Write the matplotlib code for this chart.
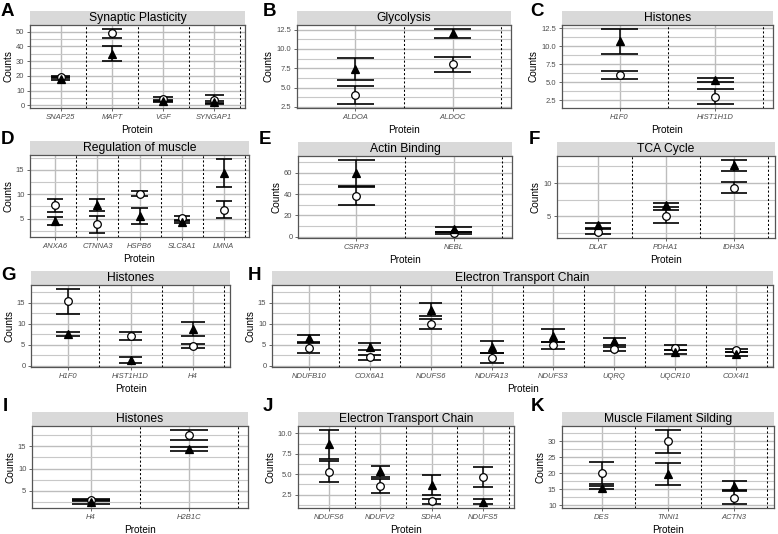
import numpy as np
import matplotlib
matplotlib.use("Agg")
import matplotlib.pyplot as plt
from matplotlib.patches import Rectangle
from matplotlib.ticker import MultipleLocator, FormatStrFormatter

plt.rcParams['font.family'] = ['Liberation Sans', 'DejaVu Sans']

# ---- data (mean and error half-width) ----
# A  Synaptic Plasticity
a_proteins = ["SNAP25", "MAPT", "VGF", "SYNGAP1"]
a_circle = [19.2, 48.9, 4.2, 3.8]
a_circle_se = [0.5, 3.0, 1.4, 3.0]
a_tri = [18.0, 34.9, 3.0, 2.0]
a_tri_se = [1.0, 5.1, 0.9, 0.7]

# B  Glycolysis
b_proteins = ["ALDOA", "ALDOC"]
b_circle = [4.0, 8.0]
b_circle_se = [1.15, 1.0]
b_tri = [7.4, 12.0]
b_tri_se = [1.4, 0.6]

# C  Histones
c_proteins = ["H1F0", "HIST1H1D"]
c_circle = [6.05, 3.0]
c_circle_se = [0.6, 1.03]
c_tri = [10.7, 5.35]
c_tri_se = [1.75, 0.33]

# D  Regulation of muscle
d_proteins = ["ANXA6", "CTNNA3", "HSPB6", "SLC8A1", "LMNA"]
d_circle = [7.7, 3.8, 10.1, 5.1, 6.8]
d_circle_se = [1.35, 1.8, 0.55, 0.5, 1.7]
d_tri = [4.45, 7.8, 5.5, 4.4, 14.4]
d_tri_se = [0.85, 1.2, 1.65, 0.3, 2.85]

# E  Actin Binding
e_proteins = ["CSRP3", "NEBL"]
e_circle = [38.2, 3.2]
e_circle_se = [8.3, 1.0]
e_tri = [60.0, 6.8]
e_tri_se = [12.5, 2.5]

# F  TCA Cycle
f_proteins = ["DLAT", "PDHA1", "IDH3A"]
f_circle = [2.7, 5.0, 9.3]
f_circle_se = [0.4, 1.0, 0.85]
f_tri = [3.65, 6.7, 12.65]
f_tri_se = [0.35, 0.35, 0.85]

# G  Histones
g_proteins = ["H1F0", "HIST1H1D", "H4"]
g_circle = [15.3, 7.0, 4.6]
g_circle_se = [3.0, 1.0, 0.5]
g_tri = [7.45, 1.3, 8.65]
g_tri_se = [0.45, 0.75, 1.65]

# H  Electron Transport Chain
h_proteins = ["NDUFB10", "COX6A1", "NDUFS6", "NDUFA13", "NDUFS3", "UQRQ", "UQCR10", "COX4I1"]
h_circle = [4.1, 2.0, 9.8, 1.8, 4.8, 4.0, 4.3, 3.6]
h_circle_se = [1.2, 0.6, 1.2, 1.25, 0.75, 0.5, 0.5, 0.4]
h_tri = [6.45, 4.45, 13.35, 4.5, 7.1, 5.75, 3.3, 2.8]
h_tri_se = [0.95, 0.85, 1.45, 1.4, 1.5, 0.85, 0.45, 0.4]

# I  Histones
i_proteins = ["H4", "H2B1C"]
i_circle = [2.95, 17.5]
i_circle_se = [0.25, 1.2]
i_tri = [2.5, 14.4]
i_tri_se = [0.5, 0.45]

# J  Electron Transport Chain
j_proteins = ["NDUFS6", "NDUFV2", "SDHA", "NDUFS5"]
j_circle = [5.3, 3.6, 1.7, 4.65]
j_circle_se = [1.27, 0.85, 0.3, 1.2]
j_tri = [8.65, 5.35, 3.7, 1.65]
j_tri_se = [1.8, 0.68, 1.2, 0.33]

# K  Muscle Filament Silding
k_proteins = ["DES", "TNNI1", "ACTN3"]
k_circle = [20.0, 30.0, 12.35]
k_circle_se = [3.5, 3.6, 2.05]
k_tri = [15.5, 19.75, 16.1]
k_tri_se = [0.5, 3.5, 1.4]

W, H = 778, 534
fig = plt.figure(figsize=(W / 100, H / 100), dpi=100)

GRAY = "#4d4d4d"
STRIP_PX = 14


def data_limits(*groups):
    lo = min(min(np.array(m) - np.array(s)) for m, s in groups)
    hi = max(max(np.array(m) + np.array(s)) for m, s in groups)
    pad = (hi - lo) * 0.05
    return lo - pad, hi + pad


def panel(box, letter, letter_xy, title, proteins, circ, circ_se, tri, tri_se,
          step, fmt, ylim=None):
    l, r, t, b = box
    ax = fig.add_axes([l / W, 1 - b / H, (r - l) / W, (b - t) / H])
    n = len(proteins)
    x = np.arange(1, n + 1)

    for m, se, mk, face in [(circ, circ_se, "o", "white"), (tri, tri_se, "^", "black")]:
        m = np.array(m)
        se = np.array(se)
        ax.vlines(x, m - se, m + se, color="black", lw=1.1, zorder=3)
        ax.hlines(m + se, x - 0.19, x + 0.19, color="black", lw=1.2, zorder=3)
        ax.hlines(m - se, x - 0.19, x + 0.19, color="black", lw=1.2, zorder=3)
        ax.plot(x, m, mk, mfc=face, mec="black", ms=5.5, mew=0.9, ls="none", zorder=4)

    for xv in x + 0.5:
        ax.axvline(xv, color="black", lw=0.75, ls=(0, (2, 2)), zorder=2)

    if ylim is None:
        ylim = data_limits((circ, circ_se), (tri, tri_se))
    ax.set_ylim(ylim)
    ax.set_xlim(0.4, n + 0.6)
    ax.set_xticks(x)
    ax.set_xticklabels(proteins, style="italic")
    ax.yaxis.set_major_locator(MultipleLocator(step))
    ax.yaxis.set_minor_locator(MultipleLocator(step / 2))
    ax.yaxis.set_major_formatter(FormatStrFormatter(fmt))

    ax.set_axisbelow(True)
    ax.grid(which="major", color="#bdbdbd", lw=1.0)
    ax.grid(which="minor", axis="y", color="#c8c8c8", lw=0.8)
    for s in ax.spines.values():
        s.set_color("#555555")
        s.set_linewidth(0.9)
    ax.tick_params(axis="both", which="major", length=2.5, width=0.6, color=GRAY,
                   labelsize=5.5, labelcolor=GRAY, pad=1.5)
    ax.tick_params(axis="y", which="minor", length=0)
    ax.set_xlabel("Protein", fontsize=7.2, labelpad=3)
    ax.set_ylabel("Counts", fontsize=7.2, labelpad=2)

    ph = b - t
    ax.add_patch(Rectangle((0, 1), 1, STRIP_PX / ph, transform=ax.transAxes,
                           facecolor="#d9d9d9", edgecolor="none", clip_on=False))
    ax.text(0.5, 1 + STRIP_PX / ph / 2, title, transform=ax.transAxes,
            ha="center", va="center", fontsize=8.7)
    fig.text(letter_xy[0] / W, 1 - letter_xy[1] / H, letter, fontsize=13.5,
             fontweight="bold", ha="left", va="top")
    return ax


panel((30, 245, 25, 108), "A", (1, 3), "Synaptic Plasticity",
      a_proteins, a_circle, a_circle_se, a_tri, a_tri_se, 10, "%d")
panel((297, 511, 25, 108), "B", (263, 3), "Glycolysis",
      b_proteins, b_circle, b_circle_se, b_tri, b_tri_se, 2.5, "%.1f")
panel((562, 773, 25, 108), "C", (530, 3), "Histones",
      c_proteins, c_circle, c_circle_se, c_tri, c_tri_se, 2.5, "%.1f")

panel((30, 249, 155, 237), "D", (1, 131), "Regulation of muscle",
      d_proteins, d_circle, d_circle_se, d_tri, d_tri_se, 5, "%d")
panel((298, 512, 156, 238), "E", (259, 131), "Actin Binding",
      e_proteins, e_circle, e_circle_se, e_tri, e_tri_se, 20, "%d")
panel((557, 775, 156, 238), "F", (529, 131), "TCA Cycle",
      f_proteins, f_circle, f_circle_se, f_tri, f_tri_se, 5, "%d")

gh_lim = data_limits((g_circle, g_circle_se), (g_tri, g_tri_se),
                     (h_circle, h_circle_se), (h_tri, h_tri_se))
panel((31, 230, 285, 367), "G", (1, 267), "Histones",
      g_proteins, g_circle, g_circle_se, g_tri, g_tri_se, 5, "%d", ylim=gh_lim)
panel((272, 773, 285, 367), "H", (248, 267), "Electron Transport Chain",
      h_proteins, h_circle, h_circle_se, h_tri, h_tri_se, 5, "%d", ylim=gh_lim)

panel((32, 248, 426, 508), "I", (3, 398), "Histones",
      i_proteins, i_circle, i_circle_se, i_tri, i_tri_se, 5, "%d")
panel((298, 514, 426, 508), "J", (263, 398), "Electron Transport Chain",
      j_proteins, j_circle, j_circle_se, j_tri, j_tri_se, 2.5, "%.1f")
panel((562, 774, 426, 508), "K", (531, 398), "Muscle Filament Silding",
      k_proteins, k_circle, k_circle_se, k_tri, k_tri_se, 5, "%d")

fig.savefig("out.png", dpi=100)
